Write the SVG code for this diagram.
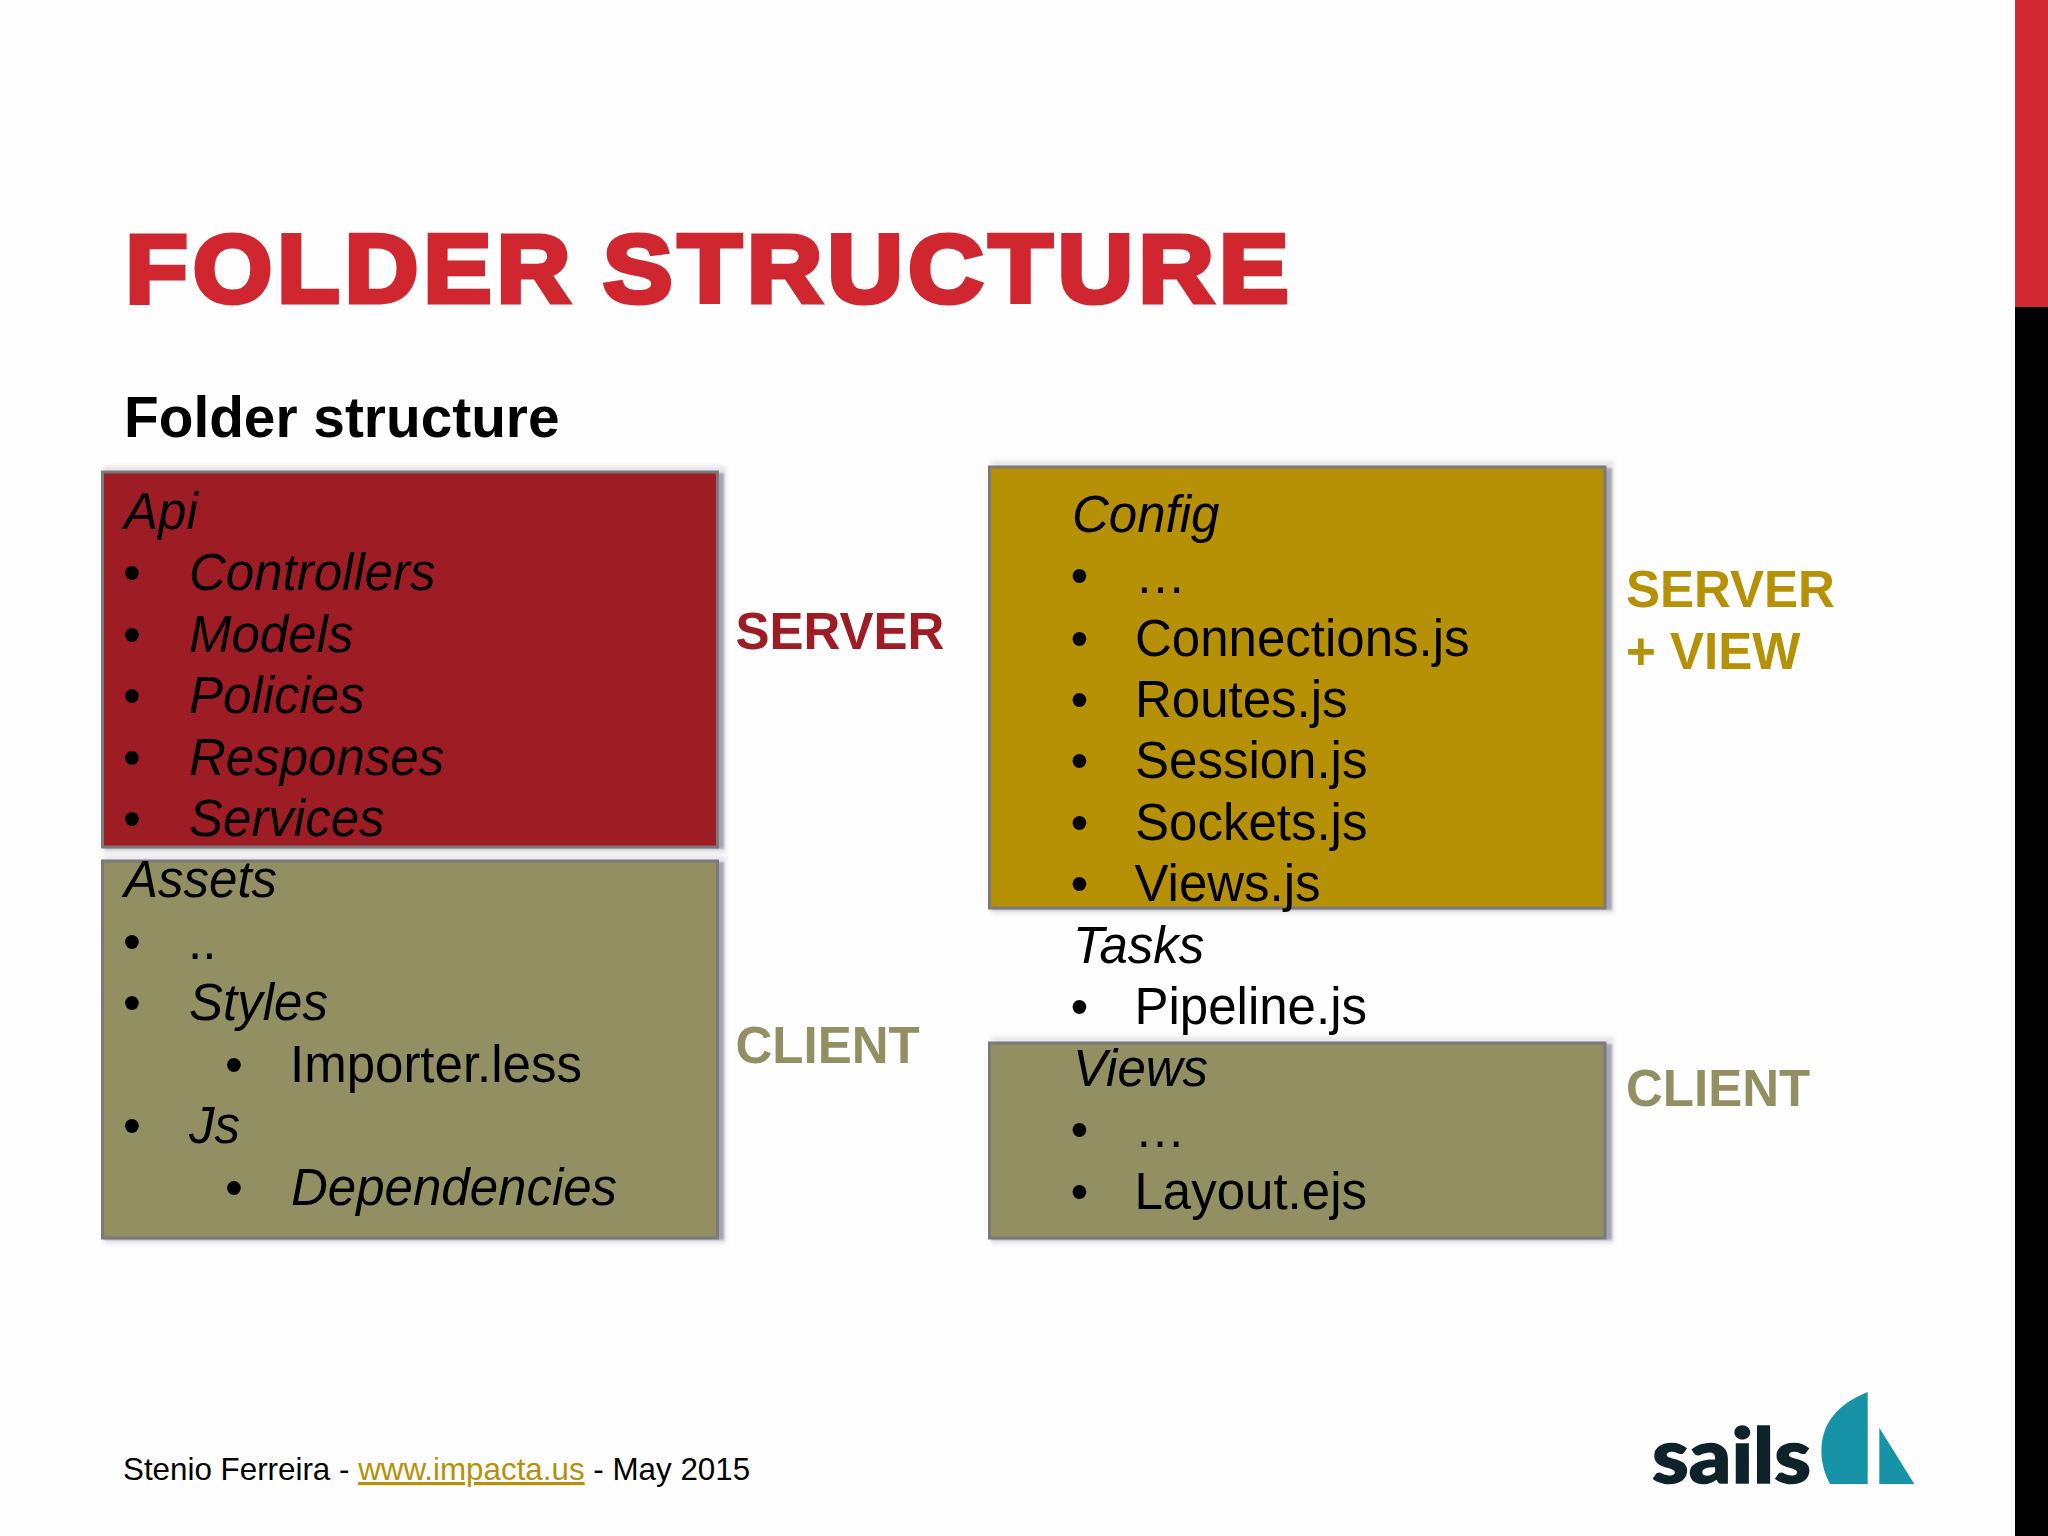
<svg xmlns="http://www.w3.org/2000/svg" width="2048" height="1536" viewBox="0 0 2048 1536">
<defs>
<filter id="sh" x="-5%" y="-5%" width="110%" height="110%"><feGaussianBlur stdDeviation="1"/></filter>
<filter id="ha" x="-5%" y="-5%" width="110%" height="110%"><feGaussianBlur stdDeviation="2"/></filter>
<style>
text{font-family:"Liberation Sans",Arial,sans-serif;fill:#000}
.i{font-size:51px}
.it{font-size:51px;font-style:italic}
.b{font-size:51px;text-anchor:middle}
.l{font-size:51px;font-weight:bold}
.box{stroke:#7a7a7c;stroke-width:3}
.halo{fill:#e6e6ea;filter:url(#ha)}
.shadow{fill:#a6a4b0;filter:url(#sh)}
.red{fill:#9e1c24}.gold{fill:#b69005}.olive{fill:#928f63}
.f{font-size:31.350px}
.t{fill:#cf2630;stroke:#cf2630;stroke-width:5;letter-spacing:5px;stroke-linejoin:miter}
</style>
</defs>
<rect width="2048" height="1536" fill="#fefefe"/>
<g id="sidebar"><rect x="2015" y="0" width="33" height="307" fill="#d12832"/><rect x="2015" y="307" width="33" height="1229" fill="#000"/></g>
<g id="title"><text class="t" y="302" font-size="96" font-weight="bold"><tspan x="125.500" textLength="450" lengthAdjust="spacingAndGlyphs">FOLDER</tspan> <tspan x="603" textLength="691" lengthAdjust="spacingAndGlyphs">STRUCTURE</tspan></text>
<text x="124" y="437" font-size="56.800" font-weight="bold">Folder structure</text></g>
<g id="boxes">
<g id="server-box"><rect class="halo" x="104" y="466" width="622" height="388"/><rect class="shadow" x="104" y="473" width="620" height="376"/><rect class="box red" x="102.500" y="472" width="615" height="375"/></g>
<g id="client-box-left"><rect class="halo" x="104" y="856" width="622" height="388"/><rect class="shadow" x="104" y="862" width="620" height="378"/><rect class="box olive" x="102.500" y="861" width="615" height="377"/></g>
<g id="server-view-box"><rect class="halo" x="991" y="461" width="623" height="453"/><rect class="shadow" x="991" y="468" width="621" height="442"/><rect class="box gold" x="989.500" y="467" width="615.500" height="441"/></g>
<g id="client-box-right"><rect class="halo" x="991" y="1037" width="623" height="207"/><rect class="shadow" x="991" y="1044" width="621" height="196"/><rect class="box olive" x="989.500" y="1043" width="615.500" height="195"/></g>
</g>
<g id="left-list">
<text class="it" x="124" y="528.500">Api</text>
<text class="b" x="132" y="590">•</text><text class="it" x="189" y="590">Controllers</text>
<text class="b" x="132" y="651.500">•</text><text class="it" x="189" y="651.500">Models</text>
<text class="b" x="132" y="713">•</text><text class="it" x="189" y="713">Policies</text>
<text class="b" x="132" y="774.500">•</text><text class="it" x="189" y="774.500">Responses</text>
<text class="b" x="132" y="836">•</text><text class="it" x="189" y="836">Services</text>
<text class="it" x="124" y="897">Assets</text>
<text class="b" x="132" y="959">•</text><text class="i" x="188" y="959">..</text>
<text class="b" x="132" y="1020">•</text><text class="it" x="189" y="1020">Styles</text>
<text class="b" x="234" y="1082">•</text><text class="i" x="290" y="1082">Importer.less</text>
<text class="b" x="132" y="1143">•</text><text class="it" x="189" y="1143">Js</text>
<text class="b" x="234" y="1205">•</text><text class="it" x="291" y="1205">Dependencies</text>
</g>
<g id="right-list">
<text class="it" x="1072" y="532">Config</text>
<text class="b" x="1079.500" y="593">•</text><text class="i" x="1135" y="593">…</text>
<text class="b" x="1079.500" y="655.500">•</text><text class="i" x="1135" y="655.500">Connections.js</text>
<text class="b" x="1079.500" y="717">•</text><text class="i" x="1135" y="717">Routes.js</text>
<text class="b" x="1079.500" y="778">•</text><text class="i" x="1135" y="778">Session.js</text>
<text class="b" x="1079.500" y="840">•</text><text class="i" x="1135" y="840">Sockets.js</text>
<text class="b" x="1079.500" y="901">•</text><text class="i" x="1134.500" y="901">Views.js</text>
<text class="it" x="1073" y="962.500">Tasks</text>
<text class="b" x="1079.500" y="1024">•</text><text class="i" x="1134.500" y="1024">Pipeline.js</text>
<text class="it" x="1073" y="1086">Views</text>
<text class="b" x="1079.500" y="1146.500">•</text><text class="i" x="1134.500" y="1146.500">…</text>
<text class="b" x="1079.500" y="1209">•</text><text class="i" x="1134.500" y="1209">Layout.ejs</text>
</g>
<g id="labels">
<text class="l" x="735.500" y="648.500" style="fill:#9e1c24">SERVER</text>
<text class="l" x="735.500" y="1062.500" style="fill:#928f63">CLIENT</text>
<text class="l" x="1626" y="607" style="fill:#b69005">SERVER</text>
<text class="l" x="1626" y="669" style="fill:#b69005">+ VIEW</text>
<text class="l" x="1626" y="1106" style="fill:#928f63">CLIENT</text>
</g>
<g id="footer"><text class="f" x="123" y="1480">Stenio Ferreira - <tspan style="fill:#b8900a" text-decoration="underline">www.impacta.us</tspan> - May 2015</text></g>
<g id="logo">
<text x="1652" y="1483" font-size="76" textLength="159" lengthAdjust="spacingAndGlyphs" style="font-family:Lato,'Liberation Sans',sans-serif;font-weight:900;fill:#0d2329;stroke:#0d2329;stroke-width:1.500">sails</text>
<path d="M1867.700 1392V1484H1830C1818 1462 1819 1437 1830 1420C1838 1408 1850 1399 1867.700 1392Z" fill="#1792a6"/>
<path d="M1879.300 1427.700V1484H1914.300Z" fill="#1792a6"/>
</g>
</svg>
